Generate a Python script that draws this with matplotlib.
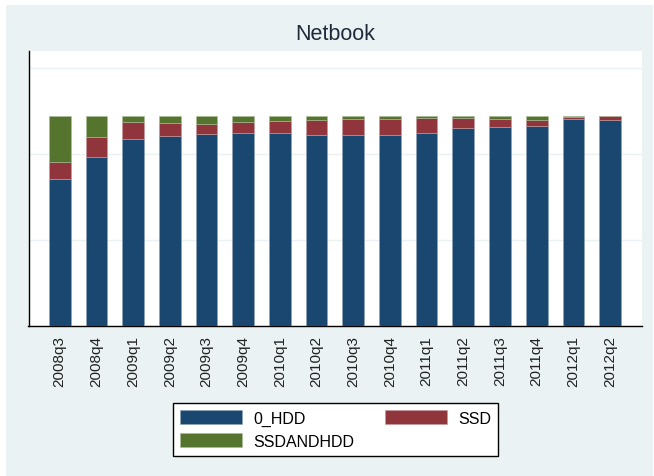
import matplotlib
matplotlib.use("Agg")
import matplotlib.pyplot as plt
from matplotlib.patches import Rectangle
import numpy as np

plt.rcParams['font.family'] = ['Liberation Sans', 'DejaVu Sans']

quarters = ["2008q3", "2008q4", "2009q1", "2009q2", "2009q3", "2009q4",
            "2010q1", "2010q2", "2010q3", "2010q4", "2011q1", "2011q2",
            "2011q3", "2011q4", "2012q1", "2012q2"]
hdd = [69.9, 80.5, 88.9, 90.6, 91.6, 91.7, 91.7, 91.0, 91.0, 91.0, 91.7, 94.4, 94.7, 95.3, 98.3, 97.9]
ssd = [8.1, 9.4, 8.1, 5.8, 4.7, 5.2, 5.7, 7.0, 7.5, 7.3, 7.4, 4.6, 3.8, 2.6, 1.1, 2.1]
ssdandhdd = [22.0, 10.1, 3.0, 3.6, 3.7, 3.1, 2.6, 2.0, 1.5, 1.7, 0.9, 1.0, 1.5, 2.1, 0.6, 0.0]

grid_vals = [0, 41, 82, 123]

c_hdd = "#1a476f"
c_ssd = "#90353b"
c_both = "#55752f"
bg = "#eaf2f3"

W, H = 654, 477
fig = plt.figure(figsize=(W / 100, H / 100), dpi=100, facecolor="white")
fig.patches.append(Rectangle((6 / W, 0), (W - 7) / W, (H - 6) / H,
                             transform=fig.transFigure, facecolor=bg,
                             edgecolor="none", zorder=-10))

left, right, top, bottom = 28.5, 642, 51.7, 327.3
ax = fig.add_axes([left / W, 1 - bottom / H, (right - left) / W, (bottom - top) / H])
ax.set_facecolor("white")

x = np.arange(len(quarters))
hdd_a = np.array(hdd)
ssd_a = np.array(ssd)
both_a = np.array(ssdandhdd)
w = 0.59
b1 = ax.bar(x, hdd_a, width=w, color=c_hdd, edgecolor="#8fa3b7", linewidth=0.4, zorder=3, label="0_HDD")
b2 = ax.bar(x, ssd_a, width=w, bottom=hdd_a, color=c_ssd, edgecolor="#c79a9d", linewidth=0.4, zorder=3, label="SSD")
b3 = ax.bar(x, both_a, width=w, bottom=hdd_a + ssd_a, color=c_both, edgecolor="#aabb97", linewidth=0.4, zorder=3, label="SSDANDHDD")

ax.set_xlim(-0.85, len(quarters) - 1 + 0.87)
ax.set_ylim(0, 131)
ax.set_yticks(grid_vals)
ax.set_yticklabels([])
ax.tick_params(axis="y", length=0)
ax.grid(axis="y", color=bg, linewidth=1.0, zorder=0)
ax.set_xticks(x)
ax.set_xticklabels(quarters, rotation=90, fontsize=11, color="#222222")
ax.tick_params(axis="x", length=0, pad=6)

for s in ["top", "right"]:
    ax.spines[s].set_visible(False)
for s in ["left", "bottom"]:
    ax.spines[s].set_color("black")
    ax.spines[s].set_linewidth(1.0)

fig.text(335 / W, 1 - 35 / H, "Netbook", ha="center", va="center", fontsize=15.5, color="#1e2a3a")

leg = fig.legend([b1, b3, b2], ["0_HDD", "SSDANDHDD", "SSD"], ncol=2,
                 loc="upper left", bbox_to_anchor=(172.7 / W, 1 - 404 / H),
                 borderaxespad=0.0, framealpha=1.0,
                 fontsize=11.5, frameon=True, fancybox=False, borderpad=0.45,
                 handlelength=3.9, handleheight=1.0, handletextpad=0.7,
                 columnspacing=1.9, labelspacing=0.45)
leg.get_frame().set_edgecolor("black")
leg.get_frame().set_linewidth(1.0)

fig.savefig("out.png", dpi=100, facecolor="white")
